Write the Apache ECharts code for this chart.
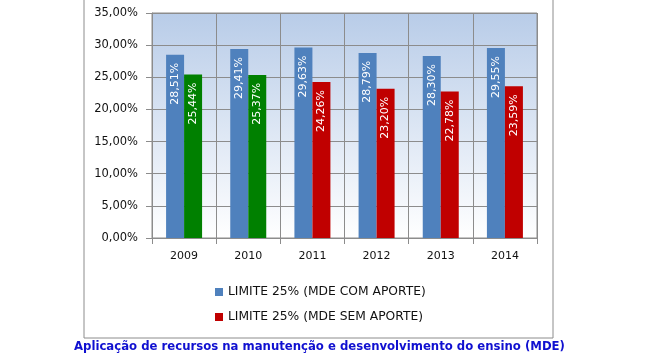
<!DOCTYPE html>
<html><head><meta charset="utf-8">
<script src="https://cdn.jsdelivr.net/npm/echarts@6/dist/echarts.min.js"></script>
<style>html,body{margin:0;padding:0;background:#fff}#c{width:650px;height:358px}</style>
</head><body><div id="c"></div>
<script>
const categories = ['2009','2010','2011','2012','2013','2014'];
const comAporte = [28.51, 29.41, 29.63, 28.79, 28.30, 29.55];
const semAporte = [25.44, 25.37, 24.26, 23.20, 22.78, 23.59];
const semColors = ['#008000','#008000','#C00000','#C00000','#C00000','#C00000'];
const seriesNames = ['LIMITE 25% (MDE COM APORTE)', 'LIMITE 25% (MDE SEM APORTE)'];
const titleText = 'Aplicação de recursos na manutenção e desenvolvimento do ensino (MDE)';

const fmt = v => v.toFixed(2).replace('.', ',') + '%';
const font = 'DejaVu Sans';
const chart = echarts.init(document.getElementById('c'));
const lbl = {
  show: true, position: 'insideTop', rotate: 90, align: 'right', verticalAlign: 'middle',
  distance: 8, color: '#fff', fontSize: 11, fontFamily: font,
  formatter: p => fmt(p.value)
};
chart.setOption({
  animation: false,
  textStyle: { fontFamily: font },
  title: {
    text: titleText, left: 74, top: 341, padding: 0,
    textStyle: { color: '#1010d0', fontSize: 11.7, fontWeight: 'bold', fontFamily: font }
  },
  graphic: [{
    type: 'rect', shape: { x: 84, y: -5, width: 469, height: 343 },
    style: { fill: 'none', stroke: '#8c8c8c', lineWidth: 1 }, z: -1
  }],
  legend: {
    orient: 'vertical', left: 215, top: 286, padding: 0, itemWidth: 8, itemHeight: 8, itemGap: 13,
    icon: 'rect', data: seriesNames,
    textStyle: { fontSize: 12.3, color: '#111', fontFamily: font }
  },
  grid: {
    left: 152, right: 113, top: 13, bottom: 120, show: true,
    borderColor: '#8c8c8c', borderWidth: 1,
    backgroundColor: new echarts.graphic.LinearGradient(0, 0, 0, 1, [
      { offset: 0, color: '#b8cce8' }, { offset: 1, color: '#ffffff' }
    ])
  },
  xAxis: {
    type: 'category', data: categories,
    axisLine: { lineStyle: { color: '#8c8c8c' } },
    axisTick: { show: true, length: 6, lineStyle: { color: '#8c8c8c' } },
    axisLabel: { color: '#111', fontSize: 11, margin: 13, fontFamily: font },
    splitLine: { show: true, lineStyle: { color: '#8c8c8c' } }
  },
  yAxis: {
    type: 'value', min: 0, max: 35, interval: 5,
    axisLine: { show: true, lineStyle: { color: '#8c8c8c' } },
    axisTick: { show: true, length: 6, lineStyle: { color: '#8c8c8c' } },
    axisLabel: { color: '#111', fontSize: 11.5, margin: 14, fontFamily: font, formatter: v => fmt(v) },
    splitLine: { show: true, lineStyle: { color: '#8c8c8c' } }
  },
  series: [
    { name: seriesNames[0], type: 'bar', data: comAporte, barWidth: 18, barGap: '0%',
      itemStyle: { color: '#4F81BD' }, label: lbl },
    { name: seriesNames[1], type: 'bar', barWidth: 18, barGap: '0%',
      data: semAporte.map((v, i) => ({ value: v, itemStyle: { color: semColors[i] } })),
      itemStyle: { color: '#C00000' }, label: lbl }
  ]
});
</script></body></html>
